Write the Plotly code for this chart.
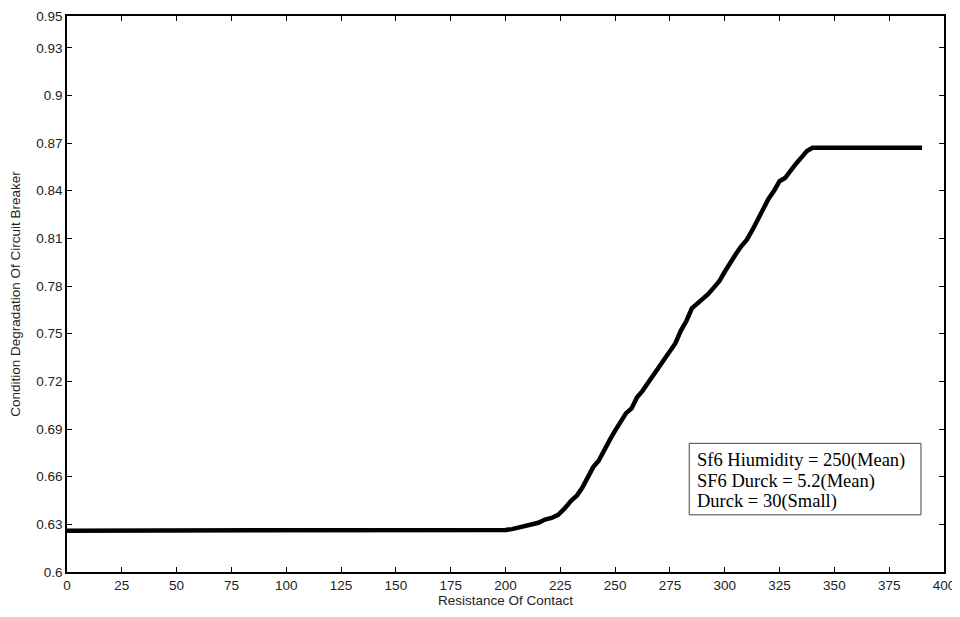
import plotly.graph_objects as go

# Data
resistance = [0, 50, 100, 150, 198, 200, 203, 206, 209, 212, 215, 218, 221, 224, 227,
              230, 232.5, 235, 237.5, 240, 242.5, 245, 247.5, 250, 252.5, 255, 257.5,
              260, 262.5, 265, 267.5, 270, 272.5, 275, 277.5, 280, 282.5, 285, 287.5,
              290, 292.5, 295, 297.5, 300, 302.5, 305, 307.5, 310, 312.5, 315, 317.5,
              320, 322.5, 325, 327.5, 330, 332.5, 335, 337.5, 340, 342, 360, 380, 390]
degradation = [0.626, 0.626, 0.626, 0.626, 0.626, 0.6265, 0.627, 0.628, 0.629, 0.630, 0.631,
               0.633, 0.634, 0.636, 0.640, 0.645, 0.648, 0.653, 0.659, 0.666, 0.670, 0.677,
               0.683, 0.689, 0.694, 0.700, 0.703, 0.710, 0.714, 0.719, 0.723, 0.728, 0.733,
               0.738, 0.744, 0.752, 0.758, 0.766, 0.769, 0.772, 0.775, 0.779, 0.783, 0.789,
               0.795, 0.800, 0.805, 0.809, 0.815, 0.822, 0.828, 0.835, 0.840, 0.846, 0.848,
               0.853, 0.857, 0.861, 0.865, 0.867, 0.867, 0.867, 0.867, 0.867]

x_ticks = [0, 25, 50, 75, 100, 125, 150, 175, 200, 225, 250, 275, 300, 325, 350, 375, 400]
y_ticks = [0.6, 0.63, 0.66, 0.69, 0.72, 0.75, 0.78, 0.81, 0.84, 0.87, 0.9, 0.93, 0.95]
y_tick_labels = ["0.6", "0.63", "0.66", "0.69", "0.72", "0.75", "0.78", "0.81", "0.84",
                 "0.87", "0.9", "0.93", "0.95"]
box_lines = ["Sf6 Hiumidity = 250(Mean)", "SF6 Durck = 5.2(Mean)", "Durck = 30(Small)"]
box_line_y = [0.6703, 0.6572, 0.6441]

sans = "Liberation Sans, Arial"
fig = go.Figure()
fig.add_trace(go.Scatter(x=resistance, y=degradation, mode="lines",
                         line=dict(color="black", width=4.5), showlegend=False))

axis_common = dict(showgrid=False, zeroline=False, showline=True, linecolor="black",
                   linewidth=1.5, mirror="ticks", ticks="inside", ticklen=5,
                   tickcolor="black", automargin=False, ticklabeloverflow="allow",
                   tickfont=dict(family=sans, size=13.5, color="#222"))

fig.update_xaxes(range=[0, 400], tickvals=x_ticks,
                 title=dict(text="Resistance Of Contact",
                            font=dict(family=sans, size=13.5, color="#222"), standoff=3),
                 **axis_common)
fig.update_yaxes(range=[0.6, 0.95], tickvals=y_ticks, ticktext=y_tick_labels,
                 title=dict(text="Condition Degradation Of Circuit Breaker",
                            font=dict(family=sans, size=13.5, color="#222"), standoff=13),
                 **axis_common)

# Text box
fig.add_shape(type="rect", xref="x", yref="y", x0=283.8, x1=389.5, y0=0.636, y1=0.681,
              line=dict(color="#444", width=1), fillcolor="white")
for txt, yy in zip(box_lines, box_line_y):
    fig.add_annotation(xref="x", yref="y", x=286.3, y=yy, xanchor="left", yanchor="middle",
                       text=txt, showarrow=False, align="left",
                       font=dict(family="Liberation Serif, Times New Roman", size=18.5, color="black"))

# The page places the figure 8px from the top-left corner, so size it to fit the window
fig.update_layout(width=952, height=601, paper_bgcolor="white", plot_bgcolor="white",
                  margin=dict(l=59, r=16, t=8, b=36.5))

fig.write_html("out.html")
